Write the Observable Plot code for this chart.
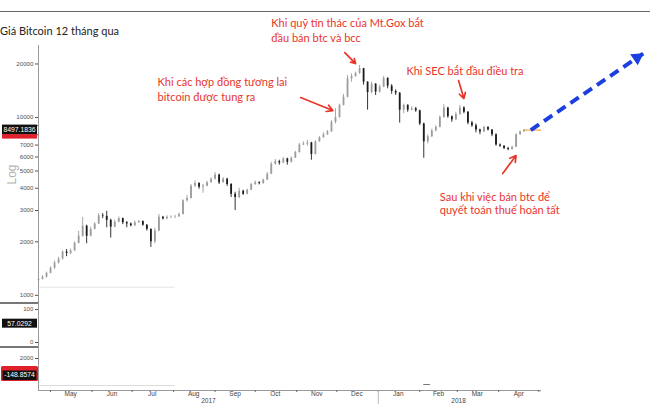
<!DOCTYPE html>
<html><head><meta charset="utf-8">
<script src="https://cdn.jsdelivr.net/npm/d3@7"></script>
<script src="https://cdn.jsdelivr.net/npm/@observablehq/plot@0.6"></script>
<style>
body{margin:0;background:#fff;}
#wrap{position:relative;width:650px;height:406px;overflow:hidden;background:#fff;}
#topline{position:absolute;left:0;top:11px;width:650px;height:0;border-top:1.5px solid #666;z-index:2}
#title{position:absolute;left:0;top:24px;line-height:13px;font-family:Lato, sans-serif;font-size:11px;color:#222;z-index:2;white-space:nowrap}
.sep{position:absolute;left:0;width:38px;height:2px;background:#777;z-index:2}
#chart svg{display:block}
</style></head>
<body>
<div id="wrap">
<div id="topline"></div>
<div id="title">Giá Bitcoin 12 tháng qua</div>
<div class="sep" style="top:302px"></div>
<div class="sep" style="top:346px"></div>
<div id="chart"></div>
</div>
<script>
// ---------- data ----------
const candleStart = "2017-04-22";
const candleStepDays = 3;
const firstOpen = 1210;
const closes = [
 1230,1265,1330,1420,1520,1600,1750,1720,1780,1960,
 2150,2450,2150,2350,2520,2800,2780,2640,2420,2580,
 2700,2560,2520,2460,2560,2600,2480,2350,2000,2300,
 2750,2700,2750,2760,2770,2850,3400,3500,4100,4250,
 4050,4100,4300,4500,4750,4300,4500,4200,3700,3550,
 3850,3700,3900,4200,4300,4250,4450,4800,5450,5650,
 5550,5850,5600,5900,6350,7000,7100,7200,6200,7300,
 7700,8000,8300,9400,10000,11700,13000,16500,17000,17700,
 18800,15800,13800,15400,13900,14800,16600,15000,14000,13700,
 11000,11700,11000,11200,10900,9200,7300,7800,8400,8800,
 10000,11300,10100,9700,10400,11300,10700,9300,9000,8500,
 8300,8800,8500,8000,7000,6900,6700,6600,6800,8000,
 8300,8497];
const highs = [
 1260,1290,1350,1450,1560,1640,1780,1810,1820,2000,
 2290,2740,2480,2420,2560,2880,2880,2970,2680,2650,
 2760,2720,2600,2550,2620,2630,2620,2500,2360,2380,
 2850,2780,2800,2800,2820,2900,3450,3650,4200,4400,
 4300,4200,4380,4580,4900,4800,4600,4550,4250,3800,
 4000,3900,3950,4250,4400,4350,4500,4900,5600,5800,
 5750,5950,5900,6000,6450,7150,7300,7450,7250,7400,
 7800,8200,8450,9600,11200,11900,13500,17200,17600,18000,
 19600,18900,15900,15800,15500,15200,17000,16700,15300,14300,
 13800,11900,11800,11500,11400,11000,9300,8000,8600,9000,
 10200,11800,11400,10200,10700,11700,11500,10800,9500,9200,
 8600,8950,8900,8550,8100,7100,6950,6800,6900,8100,
 8400,8550];
const lows = [
 1195,1220,1250,1320,1400,1500,1580,1650,1690,1770,
 1950,2120,1950,2130,2330,2500,2700,2400,2100,2400,
 2560,2500,2400,2430,2440,2540,2450,2300,1860,1950,
 2280,2650,2660,2700,2700,2740,2830,3350,3480,4050,
 3950,3750,4080,4280,4450,4200,4280,4100,3550,3000,
 3500,3650,3680,3880,4150,4180,4220,4420,4780,5400,
 5400,5500,5400,5550,5880,6300,6950,6900,5750,6150,
 7250,7650,7950,8250,9200,9900,11600,12900,15800,16800,
 17500,15200,11000,13600,13300,13700,14700,14500,13500,13300,
 9300,10500,10700,10900,10700,9000,5900,7100,7700,8300,
 8750,9900,9900,9400,9600,10300,10500,9100,8800,8200,
 8000,8250,8400,7800,6900,6800,6600,6500,6550,6780,
 7950,8250];

const lastPrice = 8497.1836, lastPriceLabel = "8497.1836";
const panel2Value = 57.0292, panel2Label = "57.0292";
const panel3Value = -148.8574, panel3Label = "-148.8574";

const xDomain = ["2017-04-22", "2018-05-03"];
const priceDomain = [900, 25400];
const priceTicks = [1000,2000,3000,4000,5000,6000,7000,8000,9000,10000,20000];
const priceTicksHidden = [8000, 9000]; // covered by the last-price tag in the reference
const panel2Domain = [-15.2, 118.2];
const panel2Ticks = [0, 100];
const panel3Domain = [-2045, 3390];
const panel3Ticks = [2000];

const monthStarts = ["2017-05-01","2017-06-01","2017-07-01","2017-08-01","2017-09-01","2017-10-01","2017-11-01","2017-12-01","2018-01-01","2018-02-01","2018-03-01","2018-04-01","2018-05-01"];
const monthMids = ["2017-05-16","2017-06-16","2017-07-16","2017-08-16","2017-09-16","2017-10-16","2017-11-16","2017-12-16","2018-01-16","2018-02-15","2018-03-16","2018-04-16"];
const monthLabels = ["May","Jun","Jul","Aug","Sep","Oct","Nov","Dec","Jan","Feb","Mar","Apr"];
const yearMids = ["2017-08-27","2018-03-02"];
const yearLabels = ["2017","2018"];
const yearBreak = "2018-01-01";

const annotDates = ["2017-07-20","2017-07-20","2017-10-13","2017-10-13","2018-01-22","2018-02-16","2018-02-16"];
const annotPrices = [15720,12950,33740,27790,18200,3562,2999];
const annotTexts = ["Khi các hợp đồng tương lai","bitcoin được tung ra","Khi quỹ tín thác của Mt.Gox bắt","đầu bán btc và bcc","Khi SEC bắt đầu điều tra","Sau khi việc bán btc để","quyết toán thuế hoàn tất"];

const arrowFromDates = ["2017-11-04","2017-12-07","2018-03-02","2018-04-04"];
const arrowFromPrices = [12950,23180,16130,4840];
const arrowToDates = ["2017-11-28","2017-12-15","2018-03-06","2018-04-14"];
const arrowToPrices = [10940,20110,12780,6110];

const forecastFrom = {date:"2018-04-25", price:8497};
const forecastTo = {date:"2018-07-18", price:22880};

const faintMain = {price:1111, from:"2017-04-23", to:"2017-08-02"};
const faintPanel3 = [{v:-1413, from:"2017-04-23", to:"2017-08-02", c:"#dcdcdc"},{v:-1287, from:"2018-02-04", to:"2018-02-09", c:"#777"}];

// ---------- build ----------
const D = s => new Date(s);
const xStart = D(xDomain[0]), xEnd = D(xDomain[1]);
const candles = closes.map((c,i)=>({
  date: d3.utcDay.offset(D(candleStart), i*candleStepDays),
  open: i ? closes[i-1] : firstOpen, close: c, high: highs[i], low: lows[i]}));
const cColor = d => d.close >= d.open ? "#9c9c9c" : "#1c1c1c";
const annots = annotTexts.map((t,i)=>({date:D(annotDates[i]), price:annotPrices[i], text:t}));
const arrows = arrowFromDates.map((d,i)=>({d1:D(d), p1:arrowFromPrices[i], d2:D(arrowToDates[i]), p2:arrowToPrices[i]}));
const blue = [{d1:D(forecastFrom.date), p1:forecastFrom.price, d2:D(forecastTo.date), p2:forecastTo.price}];
const lastDate = candles[candles.length-1].date;

const axisFont = "Liberation Sans, Arial, sans-serif";
const RED = "#e8352b", BLUE = "#1c3fe0";
const style = {fontFamily: axisFont, fontSize: "6.2px", color: "#555", background: "transparent", overflow: "visible"};
const common = {width: 650, marginLeft: 38, marginRight: 109, style,
  x: {type: "utc", domain: [xStart, xEnd], axis: null, label: null}};

const main = Plot.plot({
  ...common, height: 303, marginTop: 45, marginBottom: 0,
  y: {type: "log", domain: priceDomain, axis: null, label: null},
  marks: [
    Plot.ruleY([faintMain], {y: "price", x1: d => D(d.from), x2: d => D(d.to), stroke: "#e4e4e4"}),
    Plot.ruleX([xStart], {stroke: "#999"}),
    Plot.axisY({ticks: priceTicks, tickFormat: d => priceTicksHidden.includes(d) ? "" : String(d), tickSize: 3, tickPadding: 2, label: null}),
    Plot.text(["Log"], {frameAnchor: "left", dx: -26, rotate: -90, textAnchor: "middle", fill: "#b3b3b3", fontSize: 12, fontFamily: axisFont}),
    Plot.ruleX(candles, {x: "date", y1: "low", y2: "high", stroke: cColor, strokeWidth: 0.9}),
    Plot.ruleX(candles, {x: "date", y1: "open", y2: "close", stroke: cColor, strokeWidth: 1.8}),
    Plot.ruleY([{p: lastPrice, a: lastDate, b: xEnd}], {y: "p", x1: "a", x2: "b", stroke: "#f4a24c", strokeWidth: 1.2}),
    Plot.text(annots, {x: "date", y: "price", text: "text", textAnchor: "start", fill: RED, fontSize: 11, fontFamily: "Lato"}),
    Plot.arrow(arrows, {x1: "d1", y1: "p1", x2: "d2", y2: "p2", stroke: RED, strokeWidth: 1.7, headLength: 6}),
    Plot.link(blue, {x1: "d1", y1: "p1", x2: "d2", y2: "p2", stroke: BLUE, strokeWidth: 4, strokeDasharray: "10,6"}),
    Plot.dot(blue, {x: "d2", y: "p2", symbol: "triangle", r: 5, fill: BLUE, stroke: "none", rotate: 55.5, dx: -6, dy: 4})
  ]
});

const p2 = Plot.plot({
  ...common, height: 44, marginTop: 0, marginBottom: 0,
  y: {domain: panel2Domain, axis: null, label: null},
  marks: [
    Plot.ruleX([xStart], {stroke: "#999"}),
    Plot.axisY({ticks: panel2Ticks, tickFormat: "d", tickSize: 3, tickPadding: 2, label: null})
  ]
});

const months = monthMids.map((d,i)=>({date: D(d), label: monthLabels[i]}));
const years = yearMids.map((d,i)=>({date: D(d), label: yearLabels[i]}));
const p3 = Plot.plot({
  ...common, height: 59, marginTop: 0, marginBottom: 16,
  y: {domain: panel3Domain, axis: null, label: null},
  marks: [
    Plot.ruleY(faintPanel3, {y: "v", x1: d => D(d.from), x2: d => D(d.to), stroke: "c"}),
    Plot.ruleX([xStart], {stroke: "#999"}),
    Plot.ruleY([panel3Domain[0]], {stroke: "#999"}),
    Plot.axisY({ticks: panel3Ticks, tickFormat: "d", tickSize: 3, tickPadding: 2, label: null}),
    Plot.axisX({ticks: monthStarts.map(D), tickSize: 2, tickFormat: () => "", label: null, stroke: "#666"}),
    Plot.axisX({ticks: [D(yearBreak)], tickSize: 14, tickFormat: () => "", label: null, stroke: "#bbb"}),
    Plot.text(months, {x: "date", text: "label", frameAnchor: "bottom", dy: 5, fontSize: 6.5, fill: "#444"}),
    Plot.text(years, {x: "date", text: "label", frameAnchor: "bottom", dy: 12, fontSize: 6.5, fill: "#444"})
  ]
});

const chart = document.getElementById("chart");
chart.append(main, p2, p3);

// value tags in the left margin, placed through each panel's y scale
function tag(plot, value, label, kind) {
  const y = plot.scale("y").apply(value);
  const g = d3.select(plot).append("g");
  if (kind === "redBelow") {
    g.append("rect").attr("x", 2).attr("y", y + 4.5).attr("width", 35).attr("height", 4.5).attr("fill", "#e0202a");
    g.append("rect").attr("x", 2).attr("y", y - 5).attr("width", 35).attr("height", 9.5).attr("fill", "#111");
  } else if (kind === "redFrame") {
    g.append("rect").attr("x", 1).attr("y", y - 9).attr("width", 37).attr("height", 15).attr("rx", 1.5).attr("fill", "#e0202a");
    g.append("rect").attr("x", 2.5).attr("y", y - 4.5).attr("width", 34).attr("height", 9.5).attr("fill", "#111");
  } else {
    g.append("rect").attr("x", 2).attr("y", y - 4.5).attr("width", 35).attr("height", 9).attr("fill", "#111");
  }
  g.append("text").attr("x", 19.5).attr("y", y).attr("dy", "0.35em").attr("text-anchor", "middle")
    .attr("fill", "#fff").attr("font-size", 6.8).attr("font-family", axisFont).text(label);
}
tag(main, lastPrice, lastPriceLabel, "redBelow");
tag(p2, panel2Value, panel2Label, "plain");
tag(p3, panel3Value, panel3Label, "redFrame");
</script>
</body></html>
